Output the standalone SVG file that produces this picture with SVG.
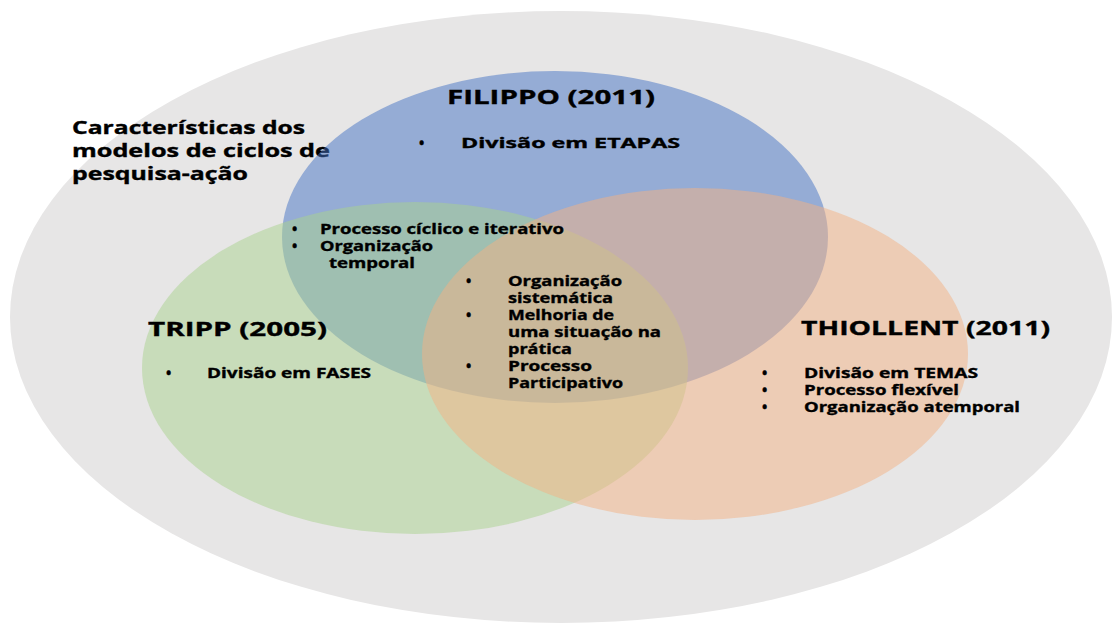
<svg xmlns="http://www.w3.org/2000/svg" width="1112" height="623" viewBox="0 0 1112 623">
<style>
text{font-family:"Open Sans","DejaVu Sans",sans-serif;font-weight:bold;fill:#000;stroke:#000;stroke-width:0.35px}
.h{font-size:20px}
.t{font-size:17px}
.b{font-size:14px}
.set{fill-opacity:0.5}
</style>
<rect width="1112" height="623" fill="#ffffff"/>
<g id="universe">
<ellipse cx="561" cy="317" rx="551" ry="306" fill="#e7e6e6"/>
<text class="t" x="72" y="134" textLength="233" lengthAdjust="spacingAndGlyphs">Características dos</text>
<text class="t" x="72" y="157" textLength="258" lengthAdjust="spacingAndGlyphs">modelos de ciclos de</text>
<text class="t" x="72" y="180" textLength="176" lengthAdjust="spacingAndGlyphs">pesquisa-ação</text>
</g>
<g id="shapes">
<ellipse id="shape-filippo" class="set" cx="555" cy="237" rx="273" ry="166" fill="#4472c4"/>
<ellipse id="shape-tripp" class="set" cx="415" cy="368" rx="273" ry="166" fill="#a9d18e"/>
<ellipse id="shape-thiollent" class="set" cx="695" cy="354" rx="273" ry="166" fill="#f4b183"/>
</g>
<g id="connectors"/>
<g id="filippo">
<text class="h" x="447" y="104" textLength="208" lengthAdjust="spacingAndGlyphs">FILIPPO (2011)</text>
<text class="b" x="419" y="148">•</text>
<text class="b" x="461" y="148" textLength="219" lengthAdjust="spacingAndGlyphs">Divisão em ETAPAS</text>
</g>
<g id="tripp">
<text class="h" x="148" y="336" textLength="179" lengthAdjust="spacingAndGlyphs">TRIPP (2005)</text>
<text class="b" x="166" y="378">•</text>
<text class="b" x="207" y="378" textLength="164" lengthAdjust="spacingAndGlyphs">Divisão em FASES</text>
</g>
<g id="thiollent">
<text class="h" x="801" y="335" textLength="249" lengthAdjust="spacingAndGlyphs">THIOLLENT (2011)</text>
<text class="b" x="762" y="378">•</text>
<text class="b" x="804" y="378" textLength="174" lengthAdjust="spacingAndGlyphs">Divisão em TEMAS</text>
<text class="b" x="762" y="395">•</text>
<text class="b" x="804" y="395" textLength="155" lengthAdjust="spacingAndGlyphs">Processo flexível</text>
<text class="b" x="762" y="412">•</text>
<text class="b" x="804" y="412" textLength="216" lengthAdjust="spacingAndGlyphs">Organização atemporal</text>
</g>
<g id="filippo-tripp">
<text class="b" x="292" y="234">•</text>
<text class="b" x="320" y="234" textLength="244" lengthAdjust="spacingAndGlyphs">Processo cíclico e iterativo</text>
<text class="b" x="292" y="251">•</text>
<text class="b" x="320" y="251" textLength="113" lengthAdjust="spacingAndGlyphs">Organização</text>
<text class="b" x="329" y="268" textLength="86" lengthAdjust="spacingAndGlyphs">temporal</text>
</g>
<g id="all-three">
<text class="b" x="466" y="286">•</text>
<text class="b" x="508" y="286" textLength="114" lengthAdjust="spacingAndGlyphs">Organização</text>
<text class="b" x="508" y="303" textLength="105" lengthAdjust="spacingAndGlyphs">sistemática</text>
<text class="b" x="466" y="320">•</text>
<text class="b" x="508" y="320" textLength="106" lengthAdjust="spacingAndGlyphs">Melhoria de</text>
<text class="b" x="508" y="337" textLength="153" lengthAdjust="spacingAndGlyphs">uma situação na</text>
<text class="b" x="508" y="354" textLength="64" lengthAdjust="spacingAndGlyphs">prática</text>
<text class="b" x="466" y="371">•</text>
<text class="b" x="508" y="371" textLength="84" lengthAdjust="spacingAndGlyphs">Processo</text>
<text class="b" x="508" y="388" textLength="115" lengthAdjust="spacingAndGlyphs">Participativo</text>
</g>
</svg>
